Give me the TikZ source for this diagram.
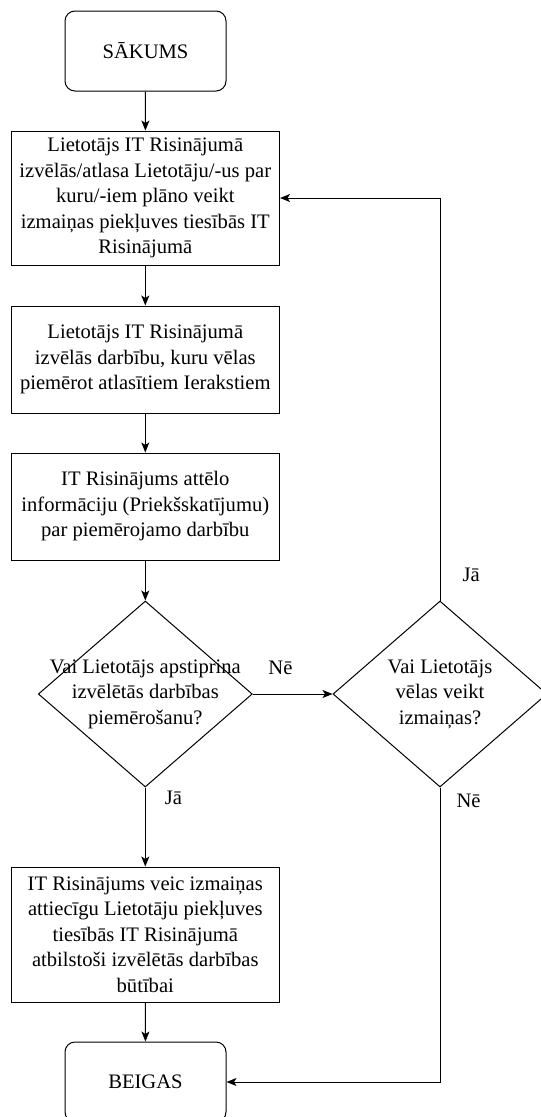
\documentclass[tikz,border=0pt]{standalone}
\usepackage{fontspec}
\setmainfont{Liberation Serif}
\usetikzlibrary{positioning, shapes.geometric, arrows.meta}

\tikzset{
  term/.style={draw, rounded corners=10pt, minimum width=161pt, minimum height=80pt, inner sep=0pt, align=center},
  proc/.style={draw, minimum width=268.5pt, inner sep=0pt, align=center},
  decision/.style={draw, diamond, minimum width=214pt, minimum height=186pt, inner sep=0pt},
  dtext/.style={inner sep=0pt, align=center},
  lbl/.style={inner sep=0pt, anchor=west},
  flow/.style={-{Stealth[length=10pt, width=8pt, inset=2.5pt]}, line width=1pt}
}

\begin{document}
\begin{tikzpicture}[x=1pt, y=-1pt, line width=1pt, font=\fontsize{20.6}{25.5}\selectfont]
\useasboundingbox (0,0) rectangle (541,1117);

% main column
\node[term] (start) at (145.5,51) {SĀKUMS};
\node[proc, minimum height=134pt] (b1) at (145.3,198) {Lietotājs IT Risinājumā\\izvēlās/atlasa Lietotāju/-us par\\kuru/-iem plāno veikt\\izmaiņas piekļuves tiesībās IT\\Risinājumā};
\node[proc, minimum height=107pt] (b2) at (145.3,359.5) {Lietotājs IT Risinājumā\\izvēlās darbību, kuru vēlas\\piemērot atlasītiem Ierakstiem};
\node[proc, minimum height=107pt] (b3) at (145.3,506.5) {IT Risinājums attēlo\\informāciju (Priekšskatījumu)\\par piemērojamo darbību};
\node[decision] (d1) at (145.3,694) {};
\node[dtext] (d1t) at (d1) {Vai Lietotājs apstiprina\\izvēlētās darbības\\piemērošanu?};
\node[proc, minimum height=135pt] (b4) at (145.3,934.5) {IT Risinājums veic izmaiņas\\attiecīgu Lietotāju piekļuves\\tiesībās IT Risinājumā\\atbilstoši izvēlētās darbības\\būtībai};
\node[term] (end) at (145.5,1082) {BEIGAS};

% right decision
\node[decision] (d2) at (440,694) {};
\node[dtext] (d2t) at (d2) {Vai Lietotājs\\vēlas veikt\\izmaiņas?};

% connectors
\draw[flow] (start) -- (b1);
\draw[flow] (b1) -- (b2);
\draw[flow] (b2) -- (b3);
\draw[flow] (b3) -- (d1);
\draw[flow] (d1) -- node[lbl, pos=0.125, xshift=19pt] (jaA) {Jā} (b4);
\draw[flow] (b4) -- (end);
\draw[flow] (d1) -- node[lbl, pos=0.19, yshift=26pt] (neA) {Nē} (d2);
\draw[flow] (d2) |- node[lbl, pos=0.032, xshift=22pt] (jaB) {Jā} (b1);
\draw[flow] (d2) |- node[lbl, pos=0.022, xshift=16pt] (neB) {Nē} (end);
\end{tikzpicture}
\end{document}
